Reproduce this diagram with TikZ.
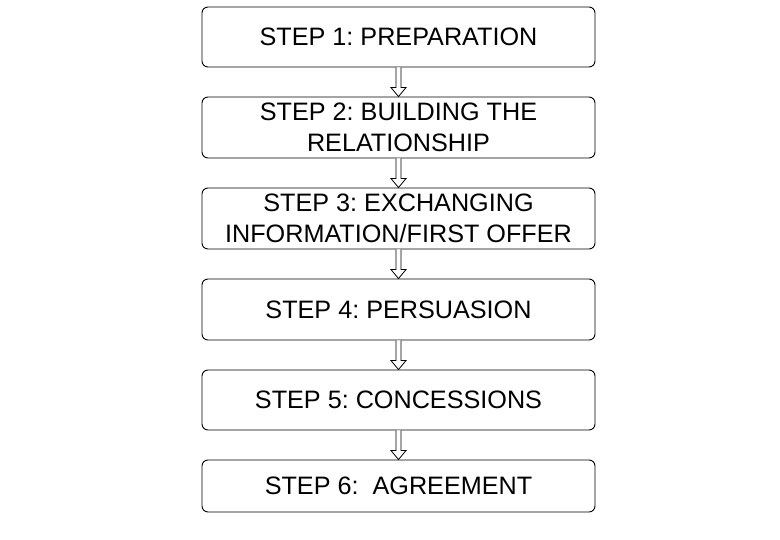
\documentclass[tikz,border=0pt]{standalone}
\usepackage{fontspec}
\setmainfont{Liberation Sans}
\frenchspacing
\begin{document}
\begin{tikzpicture}[x=1pt,y=-1pt,
  stepbox/.style={draw=black,line width=0.9pt,rounded corners=6pt,minimum width=393pt,inner sep=0pt,align=center,font=\fontsize{25.2}{30.5}\selectfont,text=black},
  flowarrow/.style={draw=black,line width=0.8pt,fill=white}]
\useasboundingbox (0,0) rectangle (780,540);
\node[stepbox,minimum height=60pt] (s1) at (398.5,37) {STEP 1: PREPARATION};
\node[stepbox,minimum height=61pt] (s2) at (398.5,127.5) {STEP 2: BUILDING THE\\RELATIONSHIP};
\node[stepbox,minimum height=61pt] (s3) at (398.5,218.5) {STEP 3: EXCHANGING\\INFORMATION/FIRST OFFER};
\node[stepbox,minimum height=61pt] (s4) at (398.5,309.5) {STEP 4: PERSUASION};
\node[stepbox,minimum height=60pt] (s5) at (398.5,400) {STEP 5: CONCESSIONS};
\node[stepbox,minimum height=52pt] (s6) at (398.5,486) {STEP 6:\ \ AGREEMENT};
\foreach \a/\b in {s1/s2,s2/s3,s3/s4,s4/s5,s5/s6}{
  \draw[flowarrow] ([xshift=-2.5pt]\a.south) -- ([xshift=-2.5pt,yshift=9pt]\b.north) -- ([xshift=-7.5pt,yshift=9pt]\b.north) -- (\b.north) -- ([xshift=7.5pt,yshift=9pt]\b.north) -- ([xshift=2.5pt,yshift=9pt]\b.north) -- ([xshift=2.5pt]\a.south);
}
\end{tikzpicture}
\end{document}
